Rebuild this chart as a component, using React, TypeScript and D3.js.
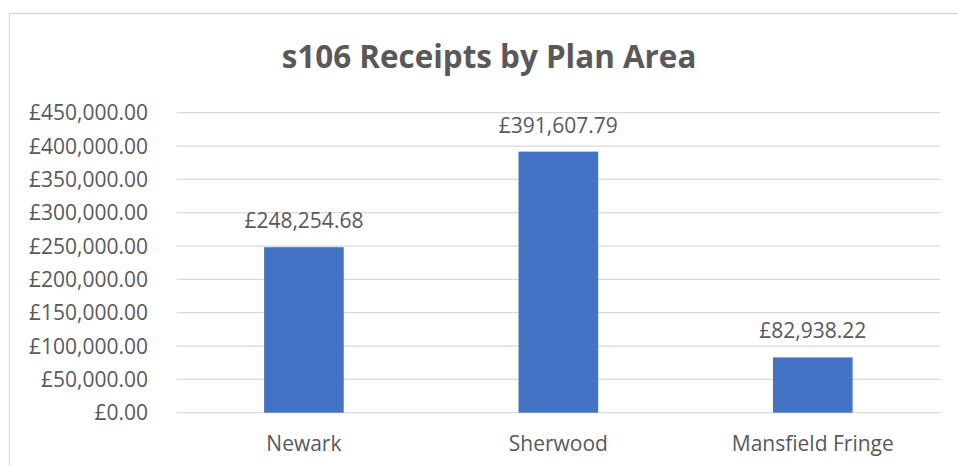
import React from "react";
import * as d3 from "d3";

const categories = ["Newark", "Sherwood", "Mansfield Fringe"];
const values = [248254.68, 391607.79, 82938.22];
const yTicks = [0, 50000, 100000, 150000, 200000, 250000, 300000, 350000, 400000, 450000];
const title = "s106 Receipts by Plan Area";

const W = 958;
const H = 465;
const FONT = "'Open Sans', sans-serif";
const TEXT = "#595959";
const GRID = "#D9D9D9";
const BAR = "#4472C4";

const fmt = (v: number) =>
  "£" + d3.format(",.2f")(v);

export default function App() {
  const plotLeft = 176.7;
  const plotRight = 940;
  const y = d3.scaleLinear().domain([0, 450000]).range([412.7, 112.7]);
  const x = d3.scaleBand<string>().domain(categories).range([plotLeft, plotRight]).padding(0);
  const barW = x.bandwidth() * 0.313;

  return (
    <svg
      width={W}
      height={H}
      style={{ position: "absolute", left: 0, top: 0, background: "#fff" }}
      fontFamily={FONT}
    >
      <rect x={9.5} y={13.5} width={960} height={500} fill="#fff" stroke={GRID} strokeWidth={1.3} />
      <text x={489} y={67.5} textAnchor="middle" fontSize={31.4} fontWeight="bold" fill={TEXT}>
        {title}
      </text>
      {yTicks.map((t) => (
        <g key={t}>
          <line x1={plotLeft} x2={plotRight} y1={y(t)} y2={y(t)} stroke={GRID} strokeWidth={1.3} />
          <text x={148} y={y(t) + 7.5} textAnchor="end" fontSize={21} fill={TEXT}>
            {fmt(t)}
          </text>
        </g>
      ))}
      {categories.map((c, i) => {
        const cx = (x(c) as number) + x.bandwidth() / 2;
        return (
          <g key={c}>
            <rect x={cx - barW / 2} y={y(values[i])} width={barW} height={y(0) - y(values[i])} fill={BAR} />
            <text x={cx} y={y(values[i]) - 19} textAnchor="middle" fontSize={21} fill={TEXT}>
              {fmt(values[i])}
            </text>
            <text x={cx} y={450.5} textAnchor="middle" fontSize={21} fill={TEXT}>
              {c}
            </text>
          </g>
        );
      })}
    </svg>
  );
}
